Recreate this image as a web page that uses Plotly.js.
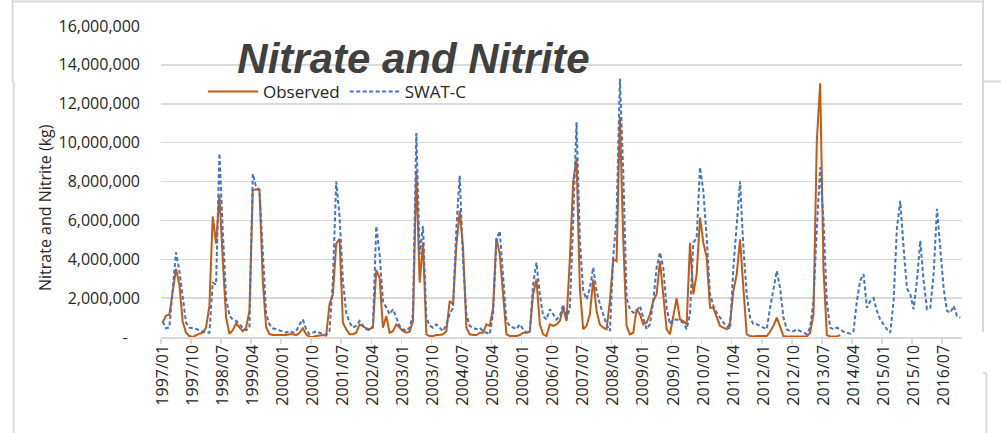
<!DOCTYPE html>
<html>
<head>
<meta charset="utf-8">
<script src="https://cdn.plot.ly/plotly-3.0.1.min.js"></script>
<style>html,body{margin:0;padding:0;background:#fff;}#chart{width:1001px;height:433px;}</style>
</head>
<body>
<div id="chart"></div>
<script>
// Monthly categories 1997/01 .. 2016/12
const startYear = 1997;
const endYear = 2016;
const monthLabels = ["01","02","03","04","05","06","07","08","09","10","11","12"];
const months = [];
for (let y = startYear; y <= endYear; y++) for (const m of monthLabels) months.push(y + "/" + m);

// Observed nitrate + nitrite load (kg), 1997/01 .. 2013/12
const observed = [
  0.75e6,1.1e6,1.15e6,2.4e6,3.5e6,2.7e6,0.8e6,0.22e6,0.05e6,0,0.1e6,0.17e6,
  0.22e6,0.48e6,1.6e6,6.2e6,4.8e6,7.3e6,4.0e6,1.0e6,0.17e6,0.35e6,0.7e6,0.48e6,
  0.3e6,0.48e6,1.35e6,7.55e6,7.6e6,7.55e6,2.9e6,0.5e6,0.15e6,0.1e6,0.1e6,0.1e6,
  0.1e6,0.1e6,0.14e6,0.14e6,0.1e6,0.22e6,0.45e6,0.14e6,0,0,0.05e6,0.07e6,
  0.1e6,0.07e6,1.7e6,2.2e6,4.8e6,5.05e6,0.74e6,0.4e6,0.14e6,0.14e6,0.22e6,0.65e6,
  0.55e6,0.45e6,0.4e6,0.48e6,3.45e6,3.05e6,0.48e6,1.08e6,0.22e6,0.3e6,0.65e6,0.48e6,
  0.3e6,0.22e6,0.27e6,0.82e6,8.55e6,2.8e6,4.85e6,0.14e6,0.05e6,0.05e6,0.1e6,0.1e6,
  0.14e6,0.3e6,1.85e6,1.68e6,4.7e6,6.5e6,4.6e6,0.48e6,0.14e6,0.1e6,0.1e6,0.22e6,
  0.22e6,0.65e6,0.57e6,1.5e6,5.1e6,4.25e6,2.2e6,0.14e6,0.05e6,0.05e6,0.05e6,0.1e6,
  0.22e6,0.22e6,0.27e6,2.2e6,2.97e6,0.65e6,0.14e6,0.05e6,0.65e6,0.57e6,0.65e6,0.82e6,
  1.5e6,0.82e6,4.0e6,8.0e6,9.2e6,2.5e6,0.4e6,0.57e6,1.17e6,2.97e6,1.34e6,0.65e6,
  0.48e6,0.4e6,1.85e6,4.0e6,3.9e6,11.3e6,5.0e6,0.57e6,0.14e6,0.22e6,1.43e6,1.17e6,
  0.65e6,0.74e6,1.17e6,1.85e6,2.2e6,3.9e6,2.2e6,0.4e6,0.14e6,1.0e6,2.0e6,0.9e6,
  0.82e6,0.65e6,4.85e6,2.2e6,3.23e6,6.15e6,4.85e6,4.1e6,1.5e6,1.5e6,1.08e6,0.57e6,
  0.48e6,0.4e6,0.74e6,2.37e6,3.23e6,5.03e6,2.5e6,0.14e6,0.05e6,0.03e6,0.05e6,0.05e6,
  0.05e6,0.05e6,0.27e6,0.57e6,1.0e6,0.48e6,0.05e6,0.03e6,0.03e6,0.03e6,0.03e6,0.03e6,
  0.03e6,0.03e6,0.22e6,1.17e6,10.1e6,13.05e6,3.5e6,0.1e6,0.03e6,0.03e6,0.03e6,0.1e6
];

// SWAT-C simulated load (kg), 1997/01 .. 2016/12
const swatC = [
  0.8e6,0.45e6,0.5e6,2.55e6,4.35e6,3.4e6,2.2e6,0.74e6,0.48e6,0.45e6,0.41e6,0.35e6,
  0.3e6,0.22e6,0.22e6,2.8e6,2.7e6,9.45e6,5.5e6,2.0e6,1.1e6,0.9e6,0.83e6,0.65e6,
  0.48e6,0.35e6,0.48e6,8.4e6,7.7e6,7.6e6,4.6e6,1.2e6,0.65e6,0.45e6,0.4e6,0.35e6,
  0.3e6,0.22e6,0.3e6,0.22e6,0.3e6,0.65e6,0.9e6,0.4e6,0.14e6,0.22e6,0.3e6,0.22e6,
  0.14e6,0.1e6,0.3e6,2.9e6,8.0e6,6.2e6,2.9e6,1.25e6,0.74e6,0.48e6,0.57e6,0.83e6,
  0.6e6,0.4e6,0.34e6,0.57e6,5.7e6,4.25e6,1.85e6,1.5e6,1.17e6,1.43e6,1.0e6,0.57e6,
  0.4e6,0.3e6,0.48e6,1.17e6,10.5e6,4.25e6,5.7e6,1.0e6,0.57e6,0.48e6,0.65e6,0.48e6,
  0.3e6,0.65e6,1.17e6,1.5e6,5.6e6,8.3e6,3.9e6,1.17e6,0.57e6,0.48e6,0.4e6,0.48e6,
  0.3e6,0.22e6,0.14e6,1.2e6,5.0e6,5.45e6,3.2e6,0.82e6,0.57e6,0.5e6,0.4e6,0.65e6,
  0.4e6,0.22e6,0.27e6,2.7e6,3.83e6,2.2e6,1.08e6,0.9e6,1.43e6,1.17e6,0.9e6,1.08e6,
  1.68e6,0.9e6,1.5e6,6.0e6,11.05e6,5.0e6,2.37e6,1.94e6,2.5e6,3.57e6,2.37e6,1.68e6,
  1.17e6,0.65e6,0.3e6,4.1e6,6.15e6,13.3e6,8.5e6,2.0e6,1.43e6,1.25e6,1.34e6,1.6e6,
  1.0e6,0.4e6,0.65e6,1.85e6,3.57e6,4.35e6,3.57e6,1.5e6,0.65e6,0.9e6,0.9e6,0.82e6,
  0.74e6,0.4e6,1.17e6,4.85e6,5.1e6,8.73e6,7.5e6,5.1e6,2.2e6,1.6e6,1.25e6,1.0e6,
  0.74e6,0.57e6,0.4e6,3.57e6,5.98e6,8.0e6,4.6e6,2.2e6,1.0e6,0.65e6,0.65e6,0.57e6,
  0.48e6,0.4e6,1.5e6,2.37e6,3.4e6,2.5e6,1.0e6,0.4e6,0.3e6,0.3e6,0.4e6,0.3e6,
  0.22e6,0.14e6,0.48e6,1.85e6,5.6e6,8.73e6,6.0e6,1.8e6,0.48e6,0.4e6,0.48e6,0.4e6,
  0.27e6,0.22e6,0.17e6,0.3e6,1.85e6,2.9e6,3.23e6,1.5e6,1.85e6,2.0e6,1.34e6,0.9e6,
  0.65e6,0.4e6,0.22e6,1.85e6,5.6e6,7.0e6,4.6e6,2.5e6,2.2e6,1.43e6,2.9e6,4.95e6,
  2.9e6,1.43e6,1.5e6,3.23e6,6.6e6,4.6e6,2.5e6,1.34e6,1.25e6,1.6e6,1.08e6,1.0e6
];

// Y axis ticks
const yTickVals = [0,2e6,4e6,6e6,8e6,10e6,12e6,14e6,16e6];
const yTickText = ["-\u00a0\u00a0\u00a0","2,000,000","4,000,000","6,000,000","8,000,000","10,000,000","12,000,000","14,000,000","16,000,000"];

const ORANGE = "#C55A11";
const BLUE = "#4472C4";
const GRID = "#D9D9D9";
const FONT = "Open Sans, Noto Sans, sans-serif";

const traces = [
  {
    x: months.slice(0, observed.length), y: observed, name: "Observed",
    type: "scatter", mode: "lines",
    line: {color: ORANGE, width: 2}
  },
  {
    x: months, y: swatC, name: "SWAT-C",
    type: "scatter", mode: "lines",
    line: {color: BLUE, width: 2, dash: "4px,2.5px"}
  }
];

// plot area in pixels: left 161, top 26, width 801, height 311
const L = 161, T = 26, W = 801, H = 311;
const px = v => (v - L) / W;
const py = v => (T + H - v) / H;
const frame = (x0, y0, x1, y1) => ({
  type: "line", xref: "paper", yref: "paper",
  x0: px(x0), y0: py(y0), x1: px(x1), y1: py(y1),
  line: {color: "#D9D9D9", width: 2}, layer: "above"
});

const layout = {
  width: 1001, height: 433,
  margin: {l: L, r: 1001 - L - W, t: T, b: 433 - T - H, pad: 0},
  paper_bgcolor: "#fff", plot_bgcolor: "#fff",
  font: {family: FONT, color: "#262626", size: 16},
  showlegend: true,
  title: {
    text: "<b><i>Nitrate and Nitrite</i></b>",
    font: {family: "Liberation Sans, Arial, sans-serif", size: 42, color: "#404040"},
    xref: "paper", x: px(413.5), xanchor: "center",
    yref: "container", y: 1 - 58.5 / 433, yanchor: "middle"
  },
  legend: {
    orientation: "h", x: px(203), xanchor: "left", y: py(92), yanchor: "middle",
    bgcolor: "rgba(0,0,0,0)", font: {family: FONT, size: 17, color: "#262626"},
    traceorder: "normal", itemwidth: 50
  },
  xaxis: {
    type: "category", range: [-0.5, months.length - 0.5],
    tickmode: "linear", tick0: 0, dtick: 9, tickson: "boundaries",
    ticks: "outside", ticklen: 5, tickwidth: 1.5, tickcolor: GRID,
    tickangle: -90, tickfont: {family: FONT, size: 16, color: "#262626"},
    showline: true, linecolor: GRID, linewidth: 1.5,
    showgrid: false, zeroline: false, fixedrange: true
  },
  yaxis: {
    range: [0, 16e6], tickmode: "array", tickvals: yTickVals, ticktext: yTickText,
    ticks: "", ticklabelstandoff: 20,
    tickfont: {family: FONT, size: 16, color: "#262626"},
    showgrid: true, gridcolor: GRID, gridwidth: 1.5,
    zeroline: false, showline: false, fixedrange: true
  },
  annotations: [
    {
      text: "Nitrate and Nitrite (kg)", textangle: -90,
      xref: "paper", yref: "paper", x: px(45), y: py(208),
      xanchor: "center", yanchor: "middle", showarrow: false,
      font: {family: FONT, size: 16, color: "#262626"}
    }
  ],
  shapes: [
    frame(12, 1.5, 983, 1.5),
    frame(12.5, 0, 12.5, 82),
    frame(13.7, 82, 13.7, 433),
    frame(983, 0, 983, 332),
    frame(983, 81.5, 1001, 81.5),
    frame(983, 373, 986.5, 373),
    frame(986.5, 373, 986.5, 433)
  ]
};

Plotly.newPlot("chart", traces, layout, {displayModeBar: false, staticPlot: true});
</script>
</body>
</html>
